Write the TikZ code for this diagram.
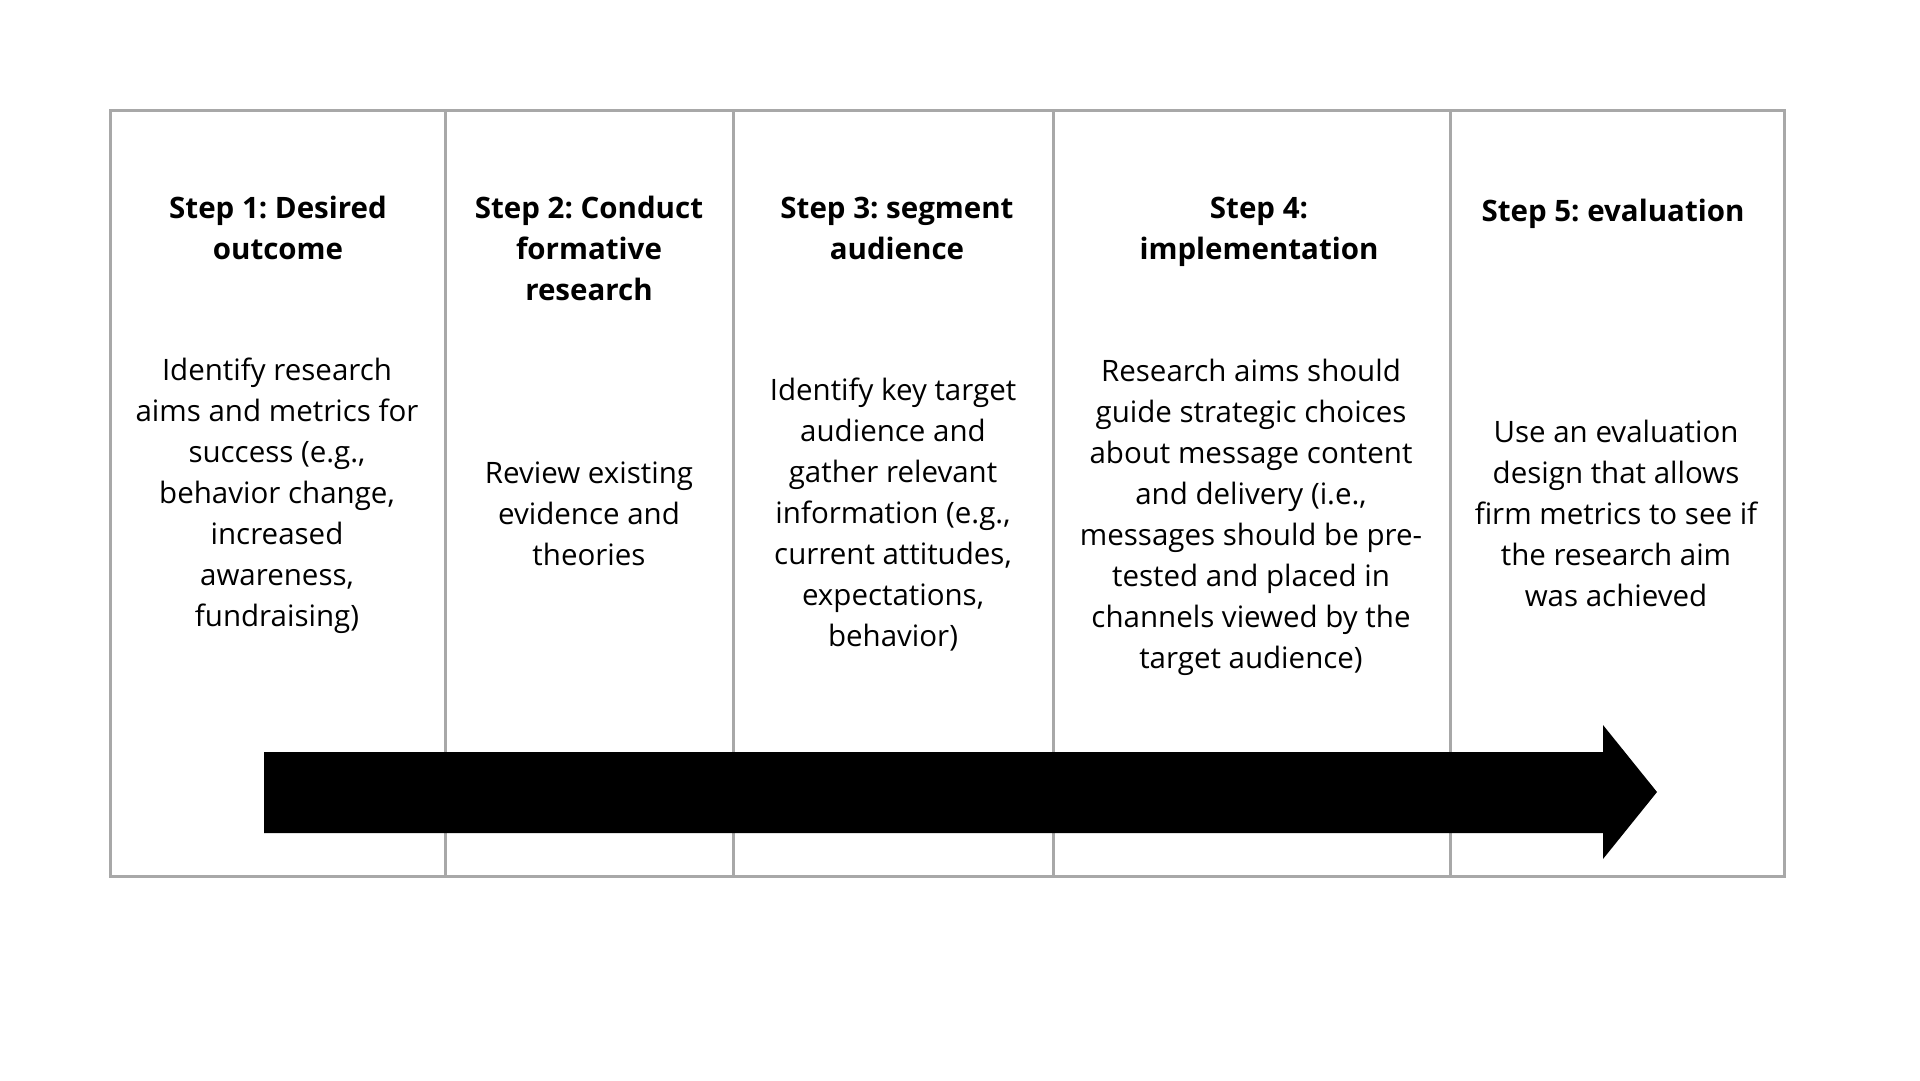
\documentclass[tikz,border=0pt]{standalone}
\usepackage{fontspec}
\setmainfont{Open Sans}
\frenchspacing
\begin{document}
\begin{tikzpicture}[x=1pt,y=-1pt,
  frame/.style={draw=framegray,line width=3pt},
  title/.style={font=\bfseries\fontsize{29.5}{41}\selectfont,align=center,inner sep=0pt},
  body/.style={font=\fontsize{29.5}{41}\selectfont,align=center,inner sep=0pt}]
\definecolor{framegray}{HTML}{A8A8A8}
\useasboundingbox (0,0) rectangle (1920,1080);
\fill[white] (0,0) rectangle (1920,1080);

% table frame and column dividers
\draw[frame] (110,110) rectangle (1784,876);
\foreach \x in {445,733,1053,1450}
  \draw[frame] (\x,110) -- (\x,876);

% column headings
\node[title] (t1) at (278,228) {Step 1: Desired\\outcome};
\node[title] (t2) at (589,248) {Step 2: Conduct\\formative\\research};
\node[title] (t3) at (897,228) {Step 3: segment\\audience};
\node[title] (t4) at (1259,232) {Step 4:\\implementation};
\node[title] (t5) at (1613,214) {Step 5: evaluation};

% column descriptions
\node[body] (b1) at (277,496) {Identify research\\aims and metrics for\\success (e.g.,\\behavior change,\\increased\\awareness,\\fundraising)};
\node[body] (b2) at (589,514) {Review existing\\evidence and\\theories};
\node[body] (b3) at (893,515) {Identify key target\\audience and\\gather relevant\\information (e.g.,\\current attitudes,\\expectations,\\behavior)};
\node[body] (b4) at (1251,517) {Research aims should\\guide strategic choices\\about message content\\and delivery (i.e.,\\messages should be pre-\\tested and placed in\\channels viewed by the\\target audience)};
\node[body] (b5) at (1616,513) {Use an evaluation\\design that allows\\firm metrics to see if\\the research aim\\was achieved};

% progress arrow across the steps
\fill[black] (264,752) -- (1603,752) -- (1603,725) -- (1657,792)
  -- (1603,859) -- (1603,833) -- (264,833) -- cycle;
\end{tikzpicture}
\end{document}
